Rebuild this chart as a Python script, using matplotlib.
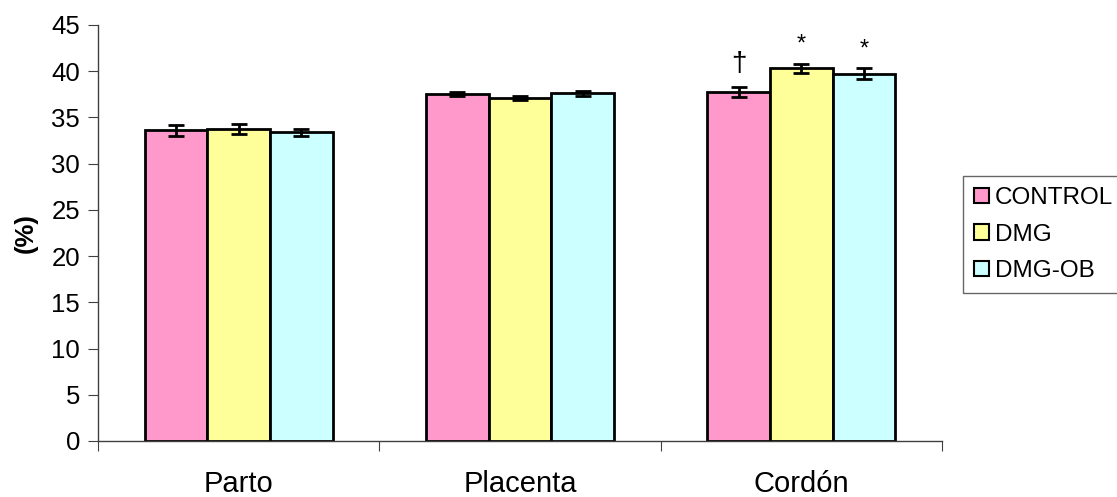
import matplotlib
matplotlib.use("Agg")
import matplotlib.pyplot as plt
import numpy as np
from matplotlib.patches import Patch

plt.rcParams['font.family'] = ['Liberation Sans', 'DejaVu Sans']

categories = ["Parto", "Placenta", "Cordón"]
series = ["CONTROL", "DMG", "DMG-OB"]
values = {
    "CONTROL": [33.6, 37.5, 37.75],
    "DMG": [33.75, 37.1, 40.3],
    "DMG-OB": [33.4, 37.6, 39.75],
}
errors = {
    "CONTROL": [0.6, 0.2, 0.5],
    "DMG": [0.5, 0.25, 0.5],
    "DMG-OB": [0.4, 0.25, 0.55],
}
marks = {
    "CONTROL": ["", "", "†"],
    "DMG": ["", "", "*"],
    "DMG-OB": ["", "", "*"],
}
yticks = [0, 5, 10, 15, 20, 25, 30, 35, 40, 45]
colors = {"CONTROL": "#FF99CC", "DMG": "#FFFF99", "DMG-OB": "#CCFFFF"}

fig = plt.figure(figsize=(11.17, 4.97), dpi=100)
ax = fig.add_axes([0.0877, 0.1127, 0.7556, 0.837])

x = np.arange(len(categories))
width = 0.223
for i, s in enumerate(series):
    pos = x + (i - 1) * width
    ax.bar(pos, values[s], width, color=colors[s], edgecolor="black", linewidth=2,
           yerr=errors[s], error_kw=dict(ecolor="black", elinewidth=2, capsize=6, capthick=2),
           zorder=2)
    for p, v, e, m in zip(pos, values[s], errors[s], marks[s]):
        if m == "†":
            ax.text(p, v + e + 1.1, m, ha="center", va="bottom", fontsize=20)
        elif m:
            ax.text(p, v + e + 0.9, m, ha="center", va="bottom", fontsize=17)

ax.set_xlim(-0.5, len(categories) - 0.5)
ax.set_ylim(0, 45)
ax.set_yticks(yticks)
ax.set_yticklabels([str(t) for t in yticks], fontsize=18.5)
ax.set_xticks(np.arange(len(categories) + 1) - 0.5)
ax.set_xticklabels([])
ax.set_xticks(x, minor=True)
ax.set_xticklabels(categories, minor=True, fontsize=21)
ax.tick_params(axis="x", which="minor", length=0, pad=21)
ax.tick_params(axis="x", which="major", direction="out", length=7, color="#404040")
ax.tick_params(axis="y", direction="out", length=7, color="#404040", pad=6)
for sp in ["top", "right"]:
    ax.spines[sp].set_visible(False)
for sp in ["left", "bottom"]:
    ax.spines[sp].set_color("#404040")
    ax.spines[sp].set_linewidth(1)
ax.set_ylabel("(%)", fontsize=18.5, fontweight="bold", labelpad=10)

handles = [Patch(facecolor=colors[s], edgecolor="black", linewidth=1.5, label=s) for s in series]
fig.legend(handles=handles, loc="upper left", bbox_to_anchor=(963 / 1117, 1 - 176 / 497),
           fontsize=17.5, frameon=True, fancybox=False, edgecolor="#404040",
           handlelength=0.6, handleheight=0.6, handletextpad=0.25, labelspacing=0.6,
           borderpad=0.45, borderaxespad=0)

fig.savefig("out.png", dpi=100)
